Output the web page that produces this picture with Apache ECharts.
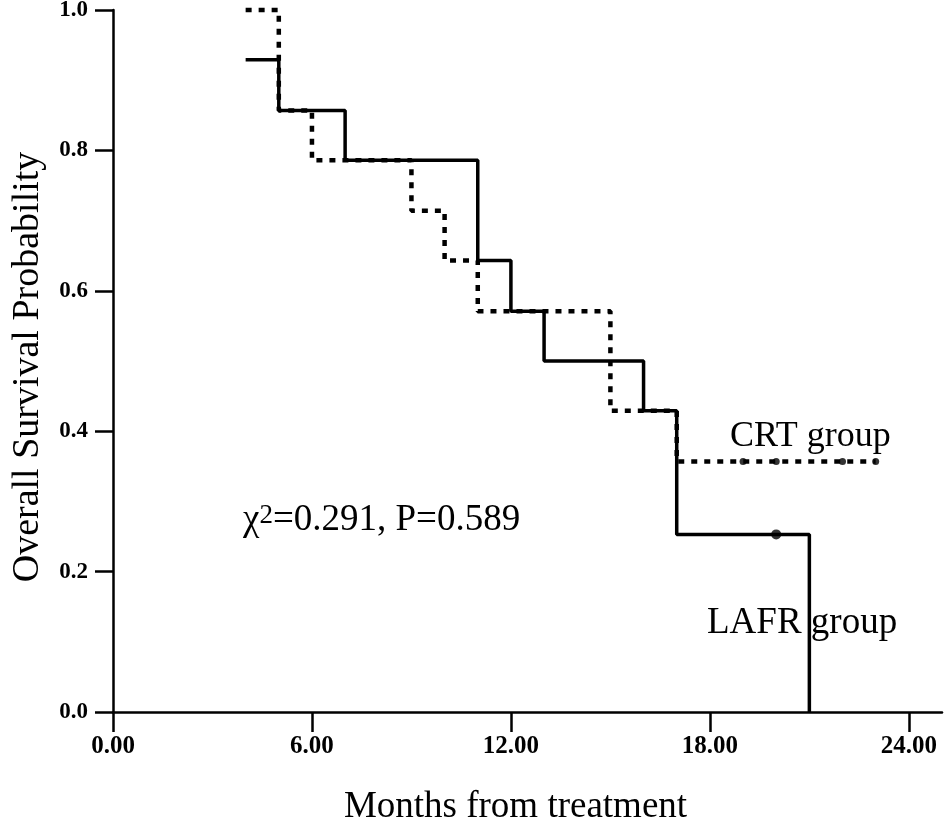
<!DOCTYPE html>
<html>
<head>
<meta charset="utf-8">
<script src="https://cdn.jsdelivr.net/npm/echarts@6/dist/echarts.min.js"></script>
<style>
html,body{margin:0;padding:0;background:#fff;}
#chart{width:945px;height:824px;}
</style>
</head>
<body>
<div id="chart"></div>
<script>
// Kaplan-Meier step data (months, survival probability)
var lafrTimes = [4, 5, 7, 11, 12, 13, 16, 17, 21];
var lafrSurv  = [0.929, 0.857, 0.786, 0.643, 0.571, 0.5, 0.429, 0.253, 0];
var crtTimes  = [4, 5, 6, 9, 10, 11, 15, 17, 23];
var crtSurv   = [1.0, 0.857, 0.786, 0.714, 0.643, 0.571, 0.429, 0.357, 0.357];
// censored observations
var lafrCensorTimes = [20];
var lafrCensorSurv  = [0.253];
var crtCensorTimes  = [19, 20, 22, 23];
var crtCensorSurv   = [0.357, 0.357, 0.357, 0.357];
// axis ticks
var xTicks = [0, 6, 12, 18, 24];
var yTicks = [0, 0.2, 0.4, 0.6, 0.8, 1.0];

function pairs(xs, ys){ return xs.map(function(x,i){ return [x, ys[i]]; }); }

var chart = echarts.init(document.getElementById('chart'));
var serif = 'Liberation Serif';
chart.setOption({
  animation: false,
  backgroundColor: '#fff',
  grid: { left: 113, right: 3, top: 10, bottom: 112, containLabel: false, outerBoundsMode: 'none' },
  xAxis: {
    type: 'value', min: 0, max: 25,
    name: 'Months from treatment', nameLocation: 'middle', nameGap: 77,
    nameTextStyle: { fontFamily: serif, fontSize: 37, color: '#000', padding: [0, 24, 0, 0] },
    axisLine: { show: true, onZero: false, lineStyle: { color: '#000', width: 2.5 } },
    axisTick: { show: true, length: 20, customValues: xTicks, lineStyle: { color: '#000', width: 2.5 } },
    axisLabel: { customValues: xTicks, margin: 22, fontFamily: serif, fontWeight: 'bold', fontSize: 25, color: '#000',
      formatter: function(v){ return v.toFixed(2); } },
    splitLine: { show: false }
  },
  yAxis: {
    type: 'value', min: 0, max: 1, interval: 0.2,
    name: 'Overall Survival Probability', nameLocation: 'middle', nameGap: 66,
    nameTextStyle: { fontFamily: serif, fontSize: 38, color: '#000', padding: [0, 12, 0, 0] },
    axisLine: { show: true, lineStyle: { color: '#000', width: 2.5 } },
    axisTick: { show: true, length: 18, lineStyle: { color: '#000', width: 2.5 } },
    axisLabel: { margin: 25, fontFamily: serif, fontWeight: 'bold', fontSize: 23, color: '#000',
      formatter: function(v){ return v.toFixed(1); } },
    splitLine: { show: false }
  },
  series: [
    { name: 'LAFR group', type: 'line', step: 'end', showSymbol: false, clip: false,
      data: pairs(lafrTimes, lafrSurv),
      lineStyle: { color: '#000', width: 3.5, type: 'solid' }, z: 2 },
    { name: 'CRT group', type: 'line', step: 'end', showSymbol: false, clip: false,
      data: pairs(crtTimes, crtSurv),
      lineStyle: { color: '#000', width: 4.5, type: [6, 7], cap: 'butt' }, z: 3 },
    { name: 'LAFR censored', type: 'scatter', symbol: 'circle', symbolSize: 10,
      data: pairs(lafrCensorTimes, lafrCensorSurv), itemStyle: { color: '#000' }, z: 4 },
    { name: 'CRT censored', type: 'scatter', symbol: 'circle', symbolSize: 7,
      data: pairs(crtCensorTimes, crtCensorSurv), itemStyle: { color: '#000' }, z: 4 }
  ],
  graphic: [
    { type: 'text', left: 730, top: 419, z: 10,
      style: { text: 'CRT group', fontFamily: serif, fontSize: 36, fill: '#000' } },
    { type: 'text', left: 707, top: 605, z: 10,
      style: { text: 'LAFR group', fontFamily: serif, fontSize: 37, fill: '#000' } },
    { type: 'text', left: 243, top: 486, z: 10,
      style: { text: '{c|χ}{s|2}{t|=0.291, P=0.589}', fontFamily: serif, fill: '#000',
        rich: {
          c: { fontFamily: serif, fontSize: 37, lineHeight: 37, fill: '#000', verticalAlign: 'bottom', padding: [16, 0, 0, 0] },
          s: { fontFamily: serif, fontSize: 27, lineHeight: 27, fill: '#000', verticalAlign: 'top', padding: [0, 0, 26, 0] },
          t: { fontFamily: serif, fontSize: 37, lineHeight: 37, fill: '#000', verticalAlign: 'bottom', padding: [16, 0, 0, 0] }
        } } }
  ]
});
</script>
</body>
</html>
